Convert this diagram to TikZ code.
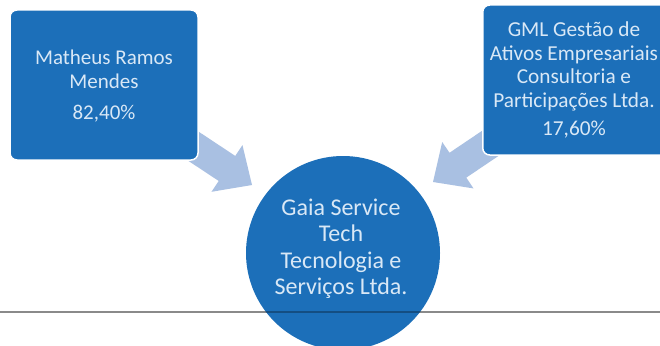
\documentclass[tikz,border=0pt]{standalone}
\usepackage{fontspec}
\setmainfont{Carlito}
\definecolor{boxblue}{HTML}{1C6FB9}
\definecolor{arrowblue}{HTML}{A9C0E2}
\definecolor{txtcol}{HTML}{D9E8F6}
\definecolor{rulegray}{HTML}{8A8A8A}
\tikzset{
  ownerbox/.style={rectangle, rounded corners=7pt, fill=boxblue, draw=white, line width=1.5pt},
  boxtext/.style={text=txtcol, align=center, inner sep=0pt, font=\fontsize{21}{24}\selectfont},
  gmltext/.style={text=txtcol, align=center, inner sep=0pt, font=\fontsize{21.3}{23.5}\selectfont},
  circtext/.style={text=txtcol, align=center, inner sep=0pt, font=\fontsize{24}{26.5}\selectfont},
  blockarrow/.style={fill=arrowblue}
}
\begin{document}
\begin{tikzpicture}[x=1pt,y=1pt]
\fill[white] (0,0) rectangle (660,-345);
\useasboundingbox (0,0) rectangle (660,-345);
\clip (0,0) rectangle (660,-345);
% block arrows
\coordinate (tipL) at (252,-185);
\coordinate (tipR) at (433,-182);
\begin{scope}[shift={(tipL)}, rotate=-33.5]
  \fill[blockarrow] (0,0) -- (-30,28) -- (-30,15) -- (-90,15) -- (-90,-15) -- (-30,-15) -- (-30,-28) -- cycle;
\end{scope}
\begin{scope}[shift={(tipR)}, rotate=-146]
  \fill[blockarrow] (0,0) -- (-30,28) -- (-30,15) -- (-90,15) -- (-90,-15) -- (-30,-15) -- (-30,-28) -- cycle;
\end{scope}
% owner boxes
\node[ownerbox, minimum width=188pt, minimum height=150pt] (mat) at (104,-85) {};
\node[boxtext] (mattxt) at (104,-86) {Matheus Ramos\\Mendes\\[7pt]82,40\%};
\node[ownerbox, minimum width=190pt, minimum height=150pt, anchor=west] (gml) at (482,-80) {};
\node[gmltext] (gmltxt) at (574,-80) {GML Gestão de\\Ativos Empresariais\\Consultoria e\\Participações Ltda.\\[5pt]17,60\%};
% company circle
\node[circle, fill=boxblue, minimum size=194pt, inner sep=0pt] (gaia) at (343,-253) {};
\node[circtext] (gaiatxt) at (341,-249) {Gaia Service\\Tech\\Tecnologia e\\Serviços Ltda.};
% rule line
\coordinate (ruleL) at (0,-312);
\coordinate (ruleR) at (660,-312);
\draw[rulegray, line width=1.5pt] (ruleL) -- (ruleR);
\begin{scope}
  \clip (gaia.center) circle (97pt);
  \draw[boxblue!70!black, line width=1.5pt] (ruleL) -- (ruleR);
\end{scope}
\end{tikzpicture}
\end{document}
